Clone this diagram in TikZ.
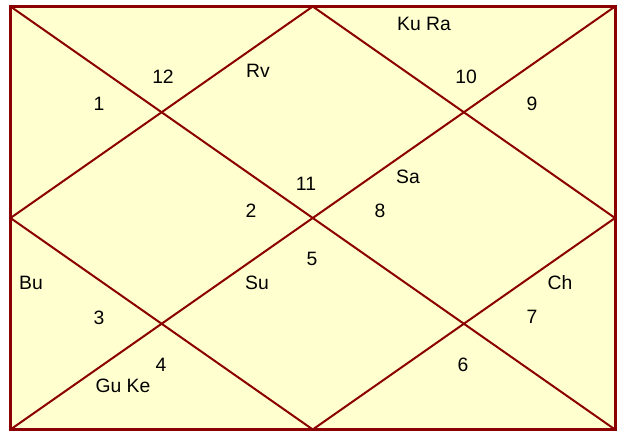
\documentclass[tikz,border=0pt]{standalone}
\usepackage{fontspec}
\setmainfont{Liberation Sans}
\definecolor{chartbg}{HTML}{FFFFD0}
\definecolor{chartline}{HTML}{8B0000}
\begin{document}
\begin{tikzpicture}[x=0.75pt,y=-0.75pt,
  lbl/.style={inner sep=0pt,font=\fontsize{14.5pt}{16pt}\selectfont,text=black},
  frame/.style={draw=chartline,line width=2.25pt,fill=chartbg},
  divline/.style={draw=chartline,line width=1.5pt}]
\useasboundingbox (0,0) rectangle (621,435);
\fill[white] (0,0) rectangle (621,435);
\coordinate (tl) at (10.5,6.5);
\coordinate (tr) at (615,6.5);
\coordinate (bl) at (10.5,429.5);
\coordinate (br) at (615,429.5);
\coordinate (tm) at (312.75,6.5);
\coordinate (bm) at (312.75,429.5);
\coordinate (lm) at (10.5,218);
\coordinate (rm) at (615,218);
\path[frame] (tl) rectangle (br);
\draw[divline] (tl) -- (br);
\draw[divline] (tr) -- (bl);
\draw[divline] (tm) -- (rm) -- (bm) -- (lm) -- cycle;
\draw[chartline,line width=2.25pt] (tl) rectangle (br);
\node[lbl] (h1) at (99,104) {1};
\node[lbl] (h12) at (163,77) {12};
\node[lbl] (rv) at (258,71) {Rv};
\node[lbl] (kura) at (424,24) {Ku Ra};
\node[lbl] (h10) at (466,77) {10};
\node[lbl] (h9) at (532,104) {9};
\node[lbl] (h11) at (306,184) {11};
\node[lbl] (sa) at (408,177) {Sa};
\node[lbl] (h2) at (251,211) {2};
\node[lbl] (h8) at (380,211) {8};
\node[lbl] (h5) at (312,259) {5};
\node[lbl] (bu) at (31,283) {Bu};
\node[lbl] (su) at (257,283) {Su};
\node[lbl] (ch) at (560,283) {Ch};
\node[lbl] (h3) at (99,318) {3};
\node[lbl] (h7) at (532,317) {7};
\node[lbl] (h4) at (161,365) {4};
\node[lbl] (h6) at (463,365) {6};
\node[lbl] (guke) at (123,386) {Gu Ke};
\end{tikzpicture}
\end{document}
